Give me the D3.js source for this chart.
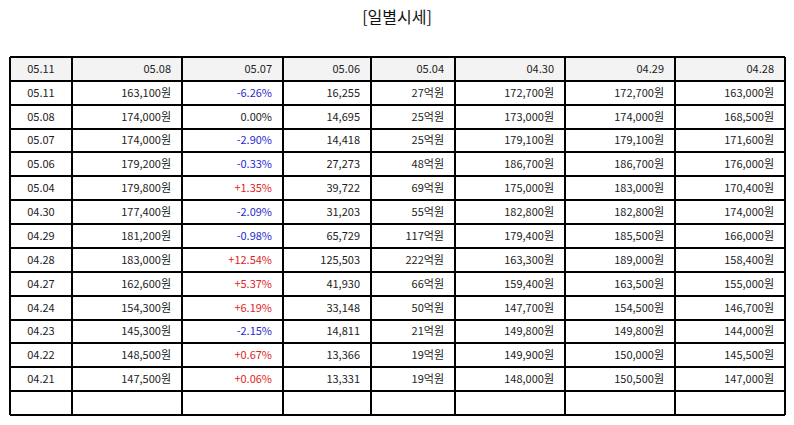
<!DOCTYPE html>
<html>
<head>
<meta charset="utf-8">
<script src="https://cdn.jsdelivr.net/npm/d3@7"></script>
<style>
  html, body { margin: 0; padding: 0; background: #fff; }
  svg { display: block; font-family: "Noto Sans CJK KR", "Noto Sans", sans-serif; }
</style>
</head>
<body>
<div id="chart"></div>
<script>
// header row (as shown in the source)
const headers = ['05.11', '05.08', '05.07', '05.06', '05.04', '04.30', '04.29', '04.28'];

// daily quotes
const dates = ['05.11', '05.08', '05.07', '05.06', '05.04', '04.30', '04.29', '04.28', '04.27', '04.24', '04.23', '04.22', '04.21'];
const closes = [163100, 174000, 174000, 179200, 179800, 177400, 181200, 183000, 162600, 154300, 145300, 148500, 147500];
const changes = [-6.26, 0.00, -2.90, -0.33, 1.35, -2.09, -0.98, 12.54, 5.37, 6.19, -2.15, 0.67, 0.06];
const volumes = [16255, 14695, 14418, 27273, 39722, 31203, 65729, 125503, 41930, 33148, 14811, 13366, 13331];
const amounts = [27, 25, 25, 48, 69, 55, 117, 222, 66, 50, 21, 19, 19]; // 억원
const opens = [172700, 173000, 179100, 186700, 175000, 182800, 179400, 163300, 159400, 147700, 149800, 149900, 148000];
const highs = [172700, 174000, 179100, 186700, 183000, 182800, 185500, 189000, 163500, 154500, 149800, 150000, 150500];
const lows = [163000, 168500, 171600, 176000, 170400, 174000, 166000, 158400, 155000, 146700, 144000, 145500, 147000];

const W = 794, H = 425;
const margin = {top: 57, right: 9, bottom: 10, left: 10};
const colWeights = [62, 110, 101, 88, 84, 110, 110, 110];

const comma = d3.format(',');
const won = v => comma(v) + '원';
const pct = v => (v > 0 ? '+' : '') + v.toFixed(2) + '%';

// build rows: data rows + one trailing empty row
let rows = dates.map((d, i) => [
  {t: d},
  {t: won(closes[i])},
  {t: pct(changes[i]), c: changes[i] > 0 ? '#e02525' : changes[i] < 0 ? '#2a2ad0' : '#222'},
  {t: comma(volumes[i])},
  {t: amounts[i] + '억원'},
  {t: won(opens[i])},
  {t: won(highs[i])},
  {t: won(lows[i])}
]);
rows.unshift(headers.map(h => ({t: h})));
rows.push(headers.map(() => ({t: ''})));

let svg = d3.select('#chart').append('svg')
  .attr('width', W)
  .attr('height', H);

// title
svg.append('text')
  .attr('x', W / 2)
  .attr('y', 17)
  .attr('text-anchor', 'middle')
  .attr('dy', '0.35em')
  .style('font-size', '16px')
  .style('fill', '#111')
  .text('[일별시세]');

// column scale from cumulative weights
let totalW = d3.sum(colWeights);
let x = d3.scaleLinear()
  .domain([0, totalW])
  .range([margin.left, W - margin.right]);
let colEdges = d3.cumsum([0].concat(colWeights));

let y = d3.scaleBand()
  .domain(d3.range(rows.length))
  .range([margin.top, H - margin.bottom]);

const px = v => Math.round(v);

let g = svg.append('g');

// header background
g.append('rect')
  .attr('x', x(0))
  .attr('y', y(0))
  .attr('width', x(totalW) - x(0))
  .attr('height', y.bandwidth())
  .style('fill', '#f3f3f3');

// cell texts
rows.forEach((row, ri) => {
  row.forEach((cell, ci) => {
    let left = x(colEdges[ci]), right = x(colEdges[ci + 1]);
    let center = ci === 0;
    g.append('text')
      .attr('x', center ? (left + right) / 2 : right - 11)
      .attr('y', y(ri) + y.bandwidth() / 2)
      .attr('dy', '0.36em')
      .attr('text-anchor', center ? 'middle' : 'end')
      .style('font-size', '11px')
      .style('fill', cell.c || '#222')
      .text(cell.t);
  });
});

// grid lines
let lines = svg.append('g')
  .style('stroke', '#000')
  .style('stroke-width', 1.5)
  .style('shape-rendering', 'crispEdges');

let yBottom = y(rows.length - 1) + y.bandwidth();

d3.range(rows.length + 1).forEach(ri => {
  let yy = px(ri < rows.length ? y(ri) : yBottom);
  lines.append('line')
    .attr('x1', px(x(0))).attr('x2', px(x(totalW)))
    .attr('y1', yy).attr('y2', yy);
});

colEdges.forEach(e => {
  lines.append('line')
    .attr('x1', px(x(e))).attr('x2', px(x(e)))
    .attr('y1', px(y(0))).attr('y2', px(yBottom));
});
</script>
</body>
</html>
